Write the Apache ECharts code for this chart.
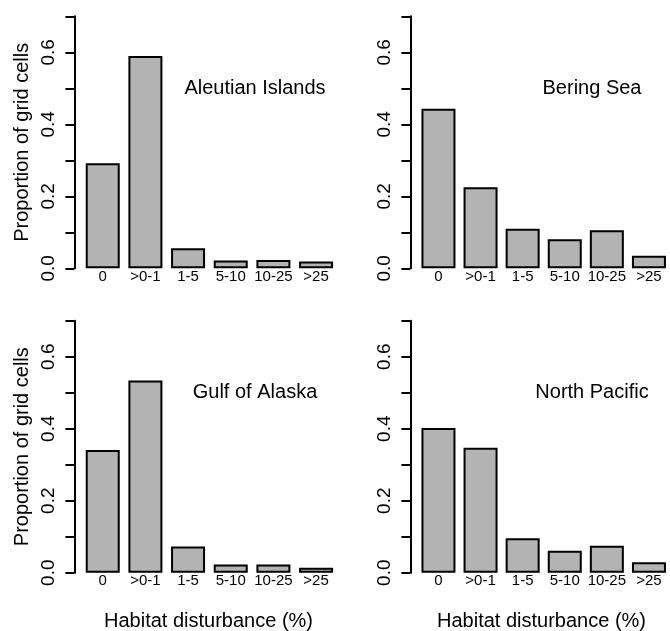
<!DOCTYPE html>
<html>
<head>
<meta charset="utf-8">
<script src="https://cdn.jsdelivr.net/npm/echarts@6/dist/echarts.min.js"></script>
<style>
  html, body { margin: 0; padding: 0; background: #fff; }
  #chart { width: 670px; height: 631px; }
</style>
</head>
<body>
<div id="chart"></div>
<script>
  // disturbance classes (x axis)
  let categories = ['0', '>0-1', '1-5', '5-10', '10-25', '>25'];
  let yTicks = [0, 0.1, 0.2, 0.3, 0.4, 0.5, 0.6, 0.7];
  let yLabels = ['0.0', '0.2', '0.4', '0.6'];

  // proportion of grid cells, per region
  let regions = ['Aleutian Islands', 'Bering Sea', 'Gulf of Alaska', 'North Pacific'];
  let aleutian = [0.292, 0.590, 0.056, 0.022, 0.023, 0.019];
  let bering = [0.443, 0.225, 0.110, 0.081, 0.106, 0.035];
  let gulf = [0.341, 0.534, 0.073, 0.023, 0.023, 0.014];
  let northPacific = [0.402, 0.347, 0.096, 0.061, 0.075, 0.029];
  let values = [aleutian, bering, gulf, northPacific];

  let font = 'Liberation Sans, Arial, sans-serif';
  let panels = [
    { left: 81.4, top: 16.3, label: [255, 78] },
    { left: 417.4, top: 16.3, label: [592, 78] },
    { left: 81.4, top: 320.7, label: [255, 382] },
    { left: 417.4, top: 320.7, label: [592, 382] }
  ];

  let chart = echarts.init(document.getElementById('chart'));
  let option = {
    animation: false,
    title: [],
    grid: [],
    xAxis: [],
    yAxis: [],
    series: [],
    graphic: []
  };

  panels.forEach((p, i) => {
    option.grid.push({ left: p.left, top: p.top, width: 256, height: 252, containLabel: false });
    option.xAxis.push({
      type: 'category',
      gridIndex: i,
      data: categories,
      axisLine: { show: false },
      axisTick: { show: false },
      axisLabel: { interval: 0, margin: 1, fontSize: 15, color: '#000', fontFamily: font }
    });
    option.yAxis.push({
      type: 'value',
      gridIndex: i,
      min: yTicks[0],
      max: yTicks[yTicks.length - 1],
      interval: 0.1,
      offset: 7,
      splitLine: { show: false },
      axisLine: { show: true, lineStyle: { color: '#000', width: 2 } },
      axisTick: { show: true, length: 9, lineStyle: { color: '#000', width: 2 } },
      axisLabel: {
        rotate: 90,
        margin: 16,
        fontSize: 19,
        color: '#000',
        fontFamily: font,
        formatter: function (v) {
          let s = v.toFixed(1);
          return yLabels.indexOf(s) >= 0 ? s : '';
        }
      },
      name: i % 2 === 0 ? 'Proportion of grid cells' : '',
      nameLocation: 'middle',
      nameGap: 42,
      nameTextStyle: { fontSize: 20, color: '#000', fontFamily: font }
    });
    option.series.push({
      type: 'bar',
      xAxisIndex: i,
      yAxisIndex: i,
      data: values[i],
      barWidth: 34,
      itemStyle: { color: '#b3b3b3', borderColor: '#000', borderWidth: 2 }
    });
    option.title.push({
      text: regions[i],
      left: p.label[0],
      top: p.label[1],
      textAlign: 'center',
      padding: 0,
      textStyle: { fontSize: 20, fontWeight: 'normal', color: '#000', fontFamily: font }
    });
  });

  // shared x axis titles under the bottom row
  option.graphic.push(
    { type: 'text', left: 104, top: 611, style: { text: 'Habitat disturbance (%)', fontSize: 20, fill: '#000', fontFamily: font } },
    { type: 'text', left: 437, top: 611, style: { text: 'Habitat disturbance (%)', fontSize: 20, fill: '#000', fontFamily: font } }
  );

  chart.setOption(option);
</script>
</body>
</html>
